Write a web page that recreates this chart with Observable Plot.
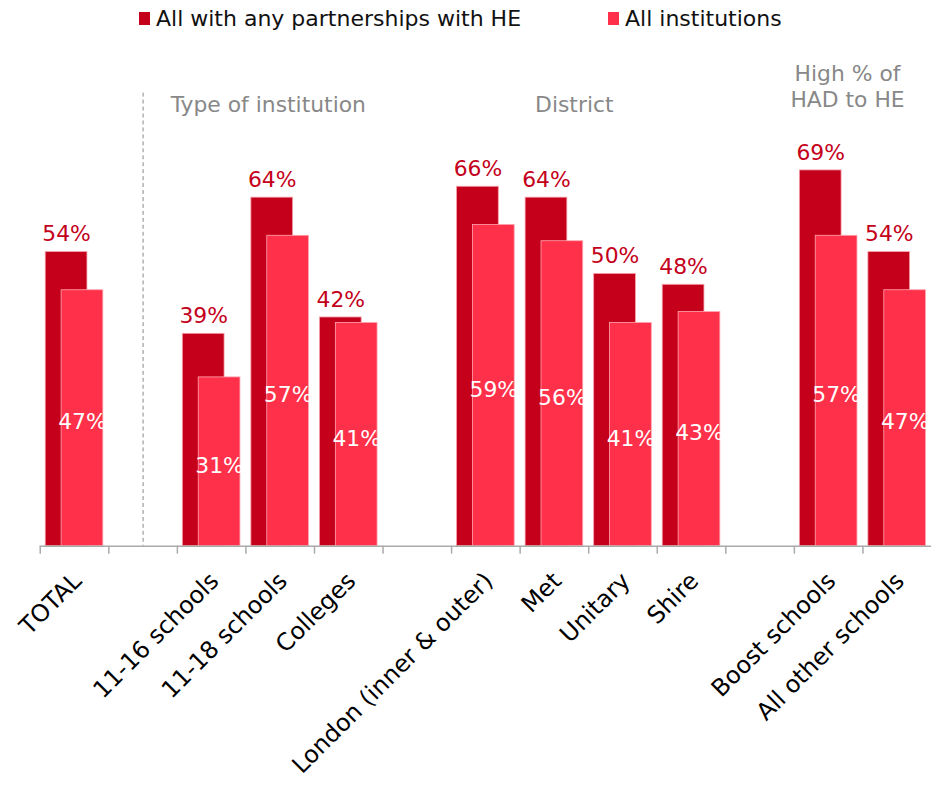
<!DOCTYPE html>
<html>
<head>
<meta charset="utf-8">
<script src="https://cdn.jsdelivr.net/npm/d3@7"></script>
<script src="https://cdn.jsdelivr.net/npm/@observablehq/plot@0.6"></script>
<style>
  html, body { margin: 0; padding: 0; background: #fff; overflow: hidden; width: 931px; height: 785px; }
  #legend { height: 40px; position: relative; font-family: "DejaVu Sans", Verdana, sans-serif; font-size: 22px; color: #111; }
  .item { position: absolute; top: 6px; display: flex; align-items: center; }
  .sw { width: 11px; height: 13px; margin-right: 6px; }
  #chart svg { display: block; }
</style>
</head>
<body>
<div id="legend"></div>
<div id="chart"></div>
<script>
// ---- data ----
const categories = ["TOTAL", "gap1", "11-16 schools", "11-18 schools", "Colleges", "gap2",
  "London (inner & outer)", "Met", "Unitary", "Shire", "gap3", "Boost schools", "All other schools"];
const gaps = ["gap1", "gap2", "gap3"];
const barCategories = ["TOTAL", "11-16 schools", "11-18 schools", "Colleges",
  "London (inner & outer)", "Met", "Unitary", "Shire", "Boost schools", "All other schools"];
const partnerships = [54, 39, 64, 42, 66, 64, 50, 48, 69, 54];
const allInstitutions = [47, 31, 57, 41, 59, 56, 41, 43, 57, 47];
const seriesNames = ["All with any partnerships with HE", "All institutions"];
const seriesColors = ["#c4001a", "#ff3049"];
const groupType = ["Type of institution"];
const groupDistrict = ["District"];
const groupHad = ["High % of\nHAD to HE"];

const darkData = barCategories.map((c, i) => ({cat: c, v: partnerships[i]}));
const lightData = barCategories.map((c, i) => ({cat: c, v: allInstitutions[i]}));

// legend
const legend = document.getElementById("legend");
const legendX = [139, 608];
seriesNames.forEach((n, i) => {
  const d = document.createElement("div");
  d.className = "item";
  d.style.left = legendX[i] + "px";
  d.innerHTML = `<span class="sw" style="background:${seriesColors[i]}"></span><span>${n}</span>`;
  legend.appendChild(d);
});

const font = "DejaVu Sans, Verdana, sans-serif";
const grey = "#888";
const chart = Plot.plot({
  width: 937,
  height: 745,
  marginLeft: 40,
  marginRight: 0,
  marginTop: 14,
  marginBottom: 236,
  style: {fontFamily: font, background: "transparent", overflow: "visible"},
  x: {domain: categories, padding: 0, axis: null},
  y: {domain: [0, 90.3], axis: null},
  marks: [
    // dashed divider
    Plot.ruleX(["gap1"], {x: d => d, stroke: "#888", strokeDasharray: "4,3", strokeWidth: 1, insetTop: 39}),
    // bars
    Plot.barY(darkData, {x: "cat", y: "v", fill: seriesColors[0], stroke: "#f7a0aa", strokeWidth: 0.8, insetLeft: 5.5, insetRight: 21.5}),
    Plot.barY(lightData, {x: "cat", y: "v", fill: seriesColors[1], stroke: "#ffa8b2", strokeWidth: 0.8, insetLeft: 21.5, insetRight: 5.5}),
    // baseline and boundary ticks
    Plot.ruleY([0], {stroke: "#aaa", strokeWidth: 1.5}),
    Plot.ruleX(categories, {x: d => d, dx: -34.5, y1: 0, y2: 0, insetBottom: -8, stroke: "#aaa", strokeWidth: 1.5}),
    // value labels
    Plot.text(darkData, {x: "cat", y: "v", text: d => d.v + "%", dx: -8, dy: -18, fill: "#c4001a", fontSize: 22}),
    Plot.text(lightData, {x: "cat", y: d => d.v / 2, text: d => d.v + "%", dx: 8, dy: 4, fill: "#fff", fontSize: 22}),
    // group labels
    Plot.text(groupType, {x: () => "11-18 schools", text: d => d, frameAnchor: "top", dx: -12, dy: 42, fill: grey, fontSize: 22}),
    Plot.text(groupDistrict, {x: () => "Met", text: d => d, frameAnchor: "top", dx: 20, dy: 42, fill: grey, fontSize: 22}),
    Plot.text(groupHad, {x: () => "Boost schools", text: d => d, frameAnchor: "top", dx: 19, dy: 8, fill: grey, fontSize: 22, lineHeight: 1.2}),
    // x axis labels
    Plot.axisX({domain: categories, label: null, tickSize: 0, tickRotate: -45, tickPadding: 31, dx: 3, fontSize: 24, fill: "#000",
      tickFormat: d => gaps.includes(d) ? "" : d})
  ]
});
document.getElementById("chart").appendChild(chart);
</script>
</body>
</html>
